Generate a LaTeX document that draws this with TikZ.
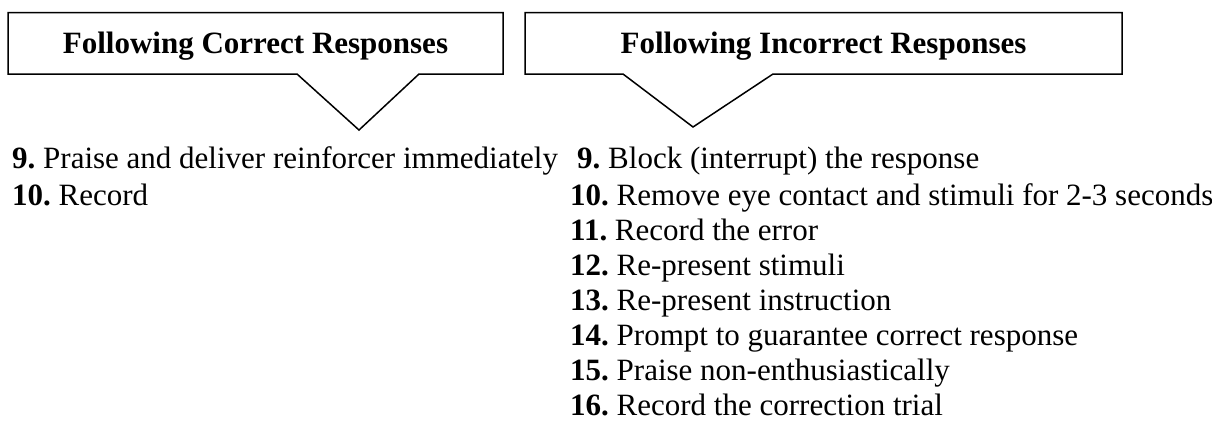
\documentclass[tikz,border=0pt]{standalone}
\usepackage{fontspec}
\setmainfont{Liberation Serif}
\begin{document}
\frenchspacing
\begin{tikzpicture}[x=1pt,y=-1pt,
  callout/.style={draw=black,line width=1.5pt,line join=miter,fill=white},
  title/.style={inner sep=0pt,anchor=base,font=\fontsize{31}{35}\selectfont\bfseries},
  item/.style={inner sep=0pt,anchor=base west,font=\fontsize{31}{35}\selectfont}]
\useasboundingbox (0,0) rectangle (1212,421);
% left callout
\draw[callout] (8,12.5) -- (503,12.5) -- (503,74) -- (419,74) -- (359,130) -- (297,74) -- (8,74) -- cycle;
\node[title] (tc) at (255.5,53) {Following Correct Responses};
% right callout
\draw[callout] (525,12.5) -- (1122,12.5) -- (1122,74) -- (773,74) -- (693,127) -- (623,74) -- (525,74) -- cycle;
\node[title] (ti) at (823.5,53) {Following Incorrect Responses};
% left list
\node[item] (c9) at (12,168) {\textbf{9.} Praise and deliver reinforcer immediately};
\node[item] (c10) at (12,205) {\textbf{10.} Record};
% right list
\node[item] (i9) at (577,168) {\textbf{9.} Block (interrupt) the response};
\node[item] (i10) at (570,205) {\textbf{10.} Remove eye contact and stimuli for 2-3 seconds};
\node[item] (i11) at (570,240) {\textbf{11.} Record the error};
\node[item] (i12) at (570,275) {\textbf{12.} Re-present stimuli};
\node[item] (i13) at (570,310) {\textbf{13.} Re-present instruction};
\node[item] (i14) at (570,345) {\textbf{14.} Prompt to guarantee correct response};
\node[item] (i15) at (570,380) {\textbf{15.} Praise non-enthusiastically};
\node[item] (i16) at (570,415) {\textbf{16.} Record the correction trial};
\end{tikzpicture}
\end{document}
